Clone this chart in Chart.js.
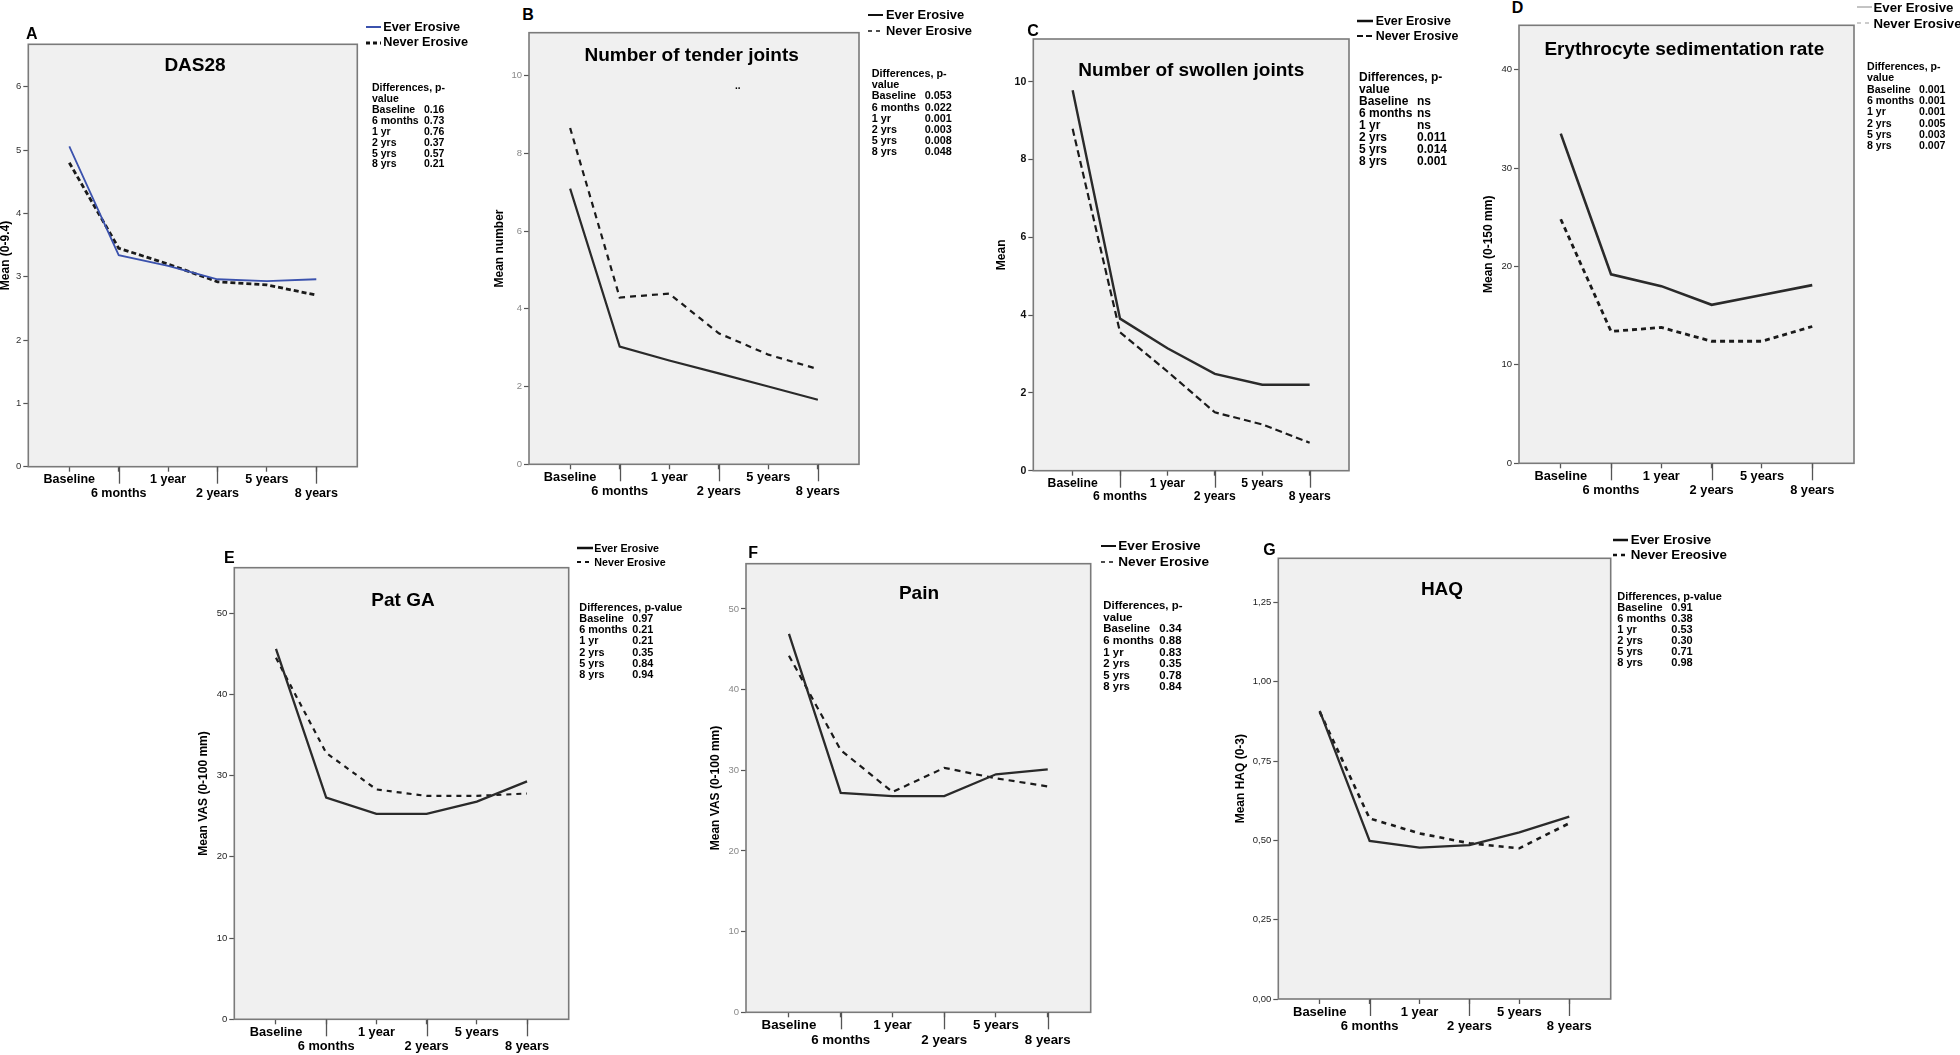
<!DOCTYPE html>
<html>
<head>
<meta charset="utf-8">
<script src="https://cdn.jsdelivr.net/npm/chart.js@4/dist/chart.umd.min.js"></script>
<style>
  body { margin: 0; width: 1960px; height: 1055px; overflow: hidden; background: #fff; position: relative;
         font-family: "Liberation Sans", Arial, sans-serif; }
  canvas { position: absolute; }
  .t { position: absolute; white-space: pre; color: #000; font-weight: bold; }
  svg { position: absolute; }
</style>
</head>
<body>
<script>
// time points and p-value row labels
const timepoints = ['Baseline', '6 months', '1 year', '2 years', '5 years', '8 years'];
const pvalueRows = ['Baseline', '6 months', '1 yr', '2 yrs', '5 yrs', '8 yrs'];

// A - DAS28
const das28Ever = [5.06, 3.34, 3.17, 2.96, 2.93, 2.96];
const das28Never = [4.80, 3.45, 3.20, 2.92, 2.87, 2.71];
const das28P = ['0.16', '0.73', '0.76', '0.37', '0.57', '0.21'];
const das28Ticks = [0, 1, 2, 3, 4, 5, 6];

// B - tender joints
const tenderEver = [7.09, 3.03, 2.67, 2.34, 2.00, 1.66];
const tenderNever = [8.65, 4.29, 4.39, 3.37, 2.82, 2.45];
const tenderP = ['0.053', '0.022', '0.001', '0.003', '0.008', '0.048'];
const jointTicks = [0, 2, 4, 6, 8, 10];

// C - swollen joints
const swollenEver = [9.78, 3.91, 3.15, 2.49, 2.21, 2.21];
const swollenNever = [8.79, 3.56, 2.55, 1.50, 1.19, 0.72];
const swollenP = ['ns', 'ns', 'ns', '0.011', '0.014', '0.001'];

// D - ESR
const esrEver = [33.5, 19.2, 18.0, 16.1, 17.1, 18.1];
const esrNever = [24.8, 13.4, 13.8, 12.4, 12.4, 13.9];
const esrP = ['0.001', '0.001', '0.001', '0.005', '0.003', '0.007'];
const esrTicks = [0, 10, 20, 30, 40];

// E - Pat GA
const patgaEver = [45.6, 27.3, 25.3, 25.3, 26.8, 29.3];
const patgaNever = [44.5, 32.8, 28.3, 27.5, 27.5, 27.8];
const patgaP = ['0.97', '0.21', '0.21', '0.35', '0.84', '0.94'];
const vasTicks = [0, 10, 20, 30, 40, 50];

// F - Pain
const painEver = [46.9, 27.2, 26.8, 26.8, 29.5, 30.1];
const painNever = [44.2, 32.5, 27.3, 30.3, 29.0, 28.0];
const painP = ['0.34', '0.88', '0.83', '0.35', '0.78', '0.84'];

// G - HAQ
const haqEver = [0.908, 0.498, 0.477, 0.485, 0.525, 0.575];
const haqNever = [0.905, 0.569, 0.522, 0.491, 0.475, 0.554];
const haqP = ['0.91', '0.38', '0.53', '0.30', '0.71', '0.98'];
const haqTicks = [0, 0.25, 0.5, 0.75, 1, 1.25];
const haqTickLabels = ['0,00', '0,25', '0,50', '0,75', '1,00', '1,25'];

const FONT = '"Liberation Sans", Arial, sans-serif';
const LEG = ['Ever Erosive', 'Never Erosive'];

// layout of each panel (plot box = [left, top, right, bottom])
const panels = [
  { letter: 'A', ever: das28Ever, never: das28Never, p: das28P, ticks: das28Ticks, yMax: 6.67,
    title: 'DAS28', yTitle: 'Mean (0-9.4)', legend: LEG,
    box: [28.3, 44.3, 357.3, 466.7], yTitleX: 5, tickColor: '#333', xFont: 12.5,
    letterPos: [26, 34.2], titlePos: [195, 64],
    leg: { x1: 366, x2: 381, tx: 383.3, y: [27.3, 42.7], fs: 12.7 },
    tab: { x: 372, y: 87.7, step: 10.86, fs: 10.5, off: 52, wrap: true },
    everColor: '#3b52ad', everWidth: 1.8, neverDash: [5, 3], neverWidth: 2.8,
    legEver: { c: '#3b52ad', w: 2 }, legNever: { c: '#111', w: 3, d: '4,3' } },
  { letter: 'B', ever: tenderEver, never: tenderNever, p: tenderP, ticks: jointTicks, yMax: 11.1,
    title: 'Number of tender joints', yTitle: 'Mean number', legend: LEG,
    box: [529, 32.7, 859, 464.3], yTitleX: 499, tickColor: '#888', xFont: 12.8,
    letterPos: [522.3, 15.3], titlePos: [691.7, 54.7],
    leg: { x1: 868.3, x2: 883.3, tx: 886, y: [15, 31], fs: 12.9 },
    tab: { x: 871.7, y: 73.3, step: 11.2, fs: 10.8, off: 53, wrap: true },
    everColor: '#2a2a2a', everWidth: 2.2, neverDash: [6, 5], neverWidth: 2.2,
    legEver: { c: '#111', w: 2 }, legNever: { c: '#111', w: 1.6, d: '4,4' } },
  { letter: 'C', ever: swollenEver, never: swollenNever, p: swollenP, ticks: jointTicks, yMax: 11.1,
    title: 'Number of swollen joints', yTitle: 'Mean', legend: LEG,
    box: [1033.3, 39, 1349, 470.7], yTitleX: 1001, tickColor: '#111', tickBold: true, xFont: 12.2,
    letterPos: [1027.3, 31.2], titlePos: [1191.3, 69.8],
    leg: { x1: 1356.7, x2: 1373.3, tx: 1375.7, y: [20.7, 35.7], fs: 12.4 },
    tab: { x: 1359, y: 77.3, step: 12, fs: 12, off: 58, wrap: true },
    everColor: '#2a2a2a', everWidth: 2.4, neverDash: [7, 4], neverWidth: 2.2,
    legEver: { c: '#111', w: 2.5 }, legNever: { c: '#111', w: 2, d: '6,3' } },
  { letter: 'D', ever: esrEver, never: esrNever, p: esrP, ticks: esrTicks, yMax: 44.5,
    title: 'Erythrocyte sedimentation rate', yTitle: 'Mean (0-150 mm)', legend: LEG,
    box: [1519, 25.3, 1854, 463.3], yTitleX: 1488.3, tickColor: '#222', xFont: 12.8,
    letterPos: [1511.7, 7.5], titlePos: [1684.3, 48.8],
    leg: { x1: 1856.7, x2: 1871.7, tx: 1873.5, y: [7.3, 23.3], fs: 13.2 },
    tab: { x: 1867, y: 66.3, step: 11.33, fs: 10.6, off: 52, wrap: true },
    everColor: '#2a2a2a', everWidth: 2.6, neverDash: [5, 4], neverWidth: 2.8,
    legEver: { c: '#888', w: 1 }, legNever: { c: '#999', w: 1, d: '4,4' } },
  { letter: 'E', ever: patgaEver, never: patgaNever, p: patgaP, ticks: vasTicks, yMax: 55.6,
    title: 'Pat GA', yTitle: 'Mean VAS (0-100 mm)', legend: LEG,
    box: [234.3, 567.7, 568.7, 1019.3], yTitleX: 203, tickColor: '#222', xFont: 12.8,
    letterPos: [224, 558], titlePos: [403, 599.3],
    leg: { x1: 576.7, x2: 592.7, tx: 594.3, y: [548.3, 562.3], fs: 10.7 },
    tab: { x: 579.3, y: 607.3, step: 11.2, fs: 10.85, off: 53, wrap: false },
    everColor: '#2a2a2a', everWidth: 2.3, neverDash: [5, 5], neverWidth: 2.2,
    legEver: { c: '#111', w: 2.5 }, legNever: { c: '#111', w: 2, d: '4,4' } },
  { letter: 'F', ever: painEver, never: painNever, p: painP, ticks: vasTicks, yMax: 55.6,
    title: 'Pain', yTitle: 'Mean VAS (0-100 mm)', legend: LEG,
    box: [746, 563.7, 1090.7, 1012.3], yTitleX: 715, tickColor: '#888', xFont: 13.3,
    letterPos: [748.3, 553.3], titlePos: [919, 592.5],
    leg: { x1: 1100.7, x2: 1116, tx: 1118.3, y: [545.7, 561.7], fs: 13.6 },
    tab: { x: 1103.3, y: 606, step: 11.57, fs: 11.4, off: 56, wrap: true },
    everColor: '#2a2a2a', everWidth: 2.3, neverDash: [6, 5], neverWidth: 2.2,
    legEver: { c: '#111', w: 2 }, legNever: { c: '#111', w: 1.6, d: '4,4' } },
  { letter: 'G', ever: haqEver, never: haqNever, p: haqP, ticks: haqTicks, tickLabels: haqTickLabels, yMax: 1.389,
    title: 'HAQ', yTitle: 'Mean HAQ (0-3)', legend: ['Ever Erosive', 'Never Ereosive'],
    box: [1278.3, 558.3, 1610.7, 999], yTitleX: 1240, tickColor: '#222', xFont: 13,
    letterPos: [1263.3, 550], titlePos: [1442, 588.3],
    leg: { x1: 1613.3, x2: 1628.3, tx: 1630.7, y: [540, 555], fs: 13.3 },
    tab: { x: 1617.3, y: 596, step: 11, fs: 11, off: 54, wrap: false },
    everColor: '#2a2a2a', everWidth: 2.3, neverDash: [5, 5], neverWidth: 2.6,
    legEver: { c: '#111', w: 2.5 }, legNever: { c: '#111', w: 2.5, d: '4,4' } }
];

function addText(str, x, y, size, opts = {}) {
  const d = document.createElement('div');
  d.className = 't';
  d.textContent = str;
  d.style.fontSize = size + 'px';
  d.style.lineHeight = size + 'px';
  d.style.top = (y - size / 2) + 'px';
  d.style.left = x + 'px';
  if (opts.center) d.style.transform = 'translateX(-50%)';
  if (opts.weight) d.style.fontWeight = opts.weight;
  document.body.appendChild(d);
}

function addSample(x1, x2, y, s) {
  const w = x2 - x1;
  const svg = document.createElementNS('http://www.w3.org/2000/svg', 'svg');
  svg.setAttribute('width', w);
  svg.setAttribute('height', 8);
  svg.style.left = x1 + 'px';
  svg.style.top = (y - 4) + 'px';
  const ln = document.createElementNS('http://www.w3.org/2000/svg', 'line');
  ln.setAttribute('x1', 0); ln.setAttribute('x2', w);
  ln.setAttribute('y1', 4); ln.setAttribute('y2', 4);
  ln.setAttribute('stroke', s.c);
  ln.setAttribute('stroke-width', s.w);
  if (s.d) ln.setAttribute('stroke-dasharray', s.d);
  svg.appendChild(ln);
  document.body.appendChild(svg);
}

// grey plot background, frame and the long ticks under the lower label row
const frame = {
  id: 'frame',
  beforeDraw(chart) {
    const a = chart.chartArea, c = chart.ctx;
    c.save();
    c.fillStyle = '#f0f0f0';
    c.fillRect(a.left, a.top, a.right - a.left, a.bottom - a.top);
    c.restore();
  },
  afterDraw(chart) {
    const a = chart.chartArea, c = chart.ctx, xs = chart.scales.x;
    c.save();
    c.strokeStyle = '#7a7a7a';
    c.lineWidth = 1.6;
    c.strokeRect(a.left, a.top, a.right - a.left, a.bottom - a.top);
    c.strokeStyle = '#555';
    c.lineWidth = 1.3;
    timepoints.forEach((_, i) => {
      if (i % 2 === 1) {
        const px = Math.round(xs.getPixelForValue(i)) + 0.5;
        c.beginPath();
        c.moveTo(px, a.bottom);
        c.lineTo(px, a.bottom + 17);
        c.stroke();
      }
    });
    c.restore();
  }
};

panels.forEach(p => {
  const [L, T, R, B] = p.box;
  const cx = Math.round(p.yTitleX - 7.2);
  const cy = Math.round(T - 4);
  const cw = Math.round(R + 4 - cx);
  const ch = Math.round(B + 40 - cy);
  const canvas = document.createElement('canvas');
  canvas.width = cw;
  canvas.height = ch;
  canvas.style.left = cx + 'px';
  canvas.style.top = cy + 'px';
  document.body.appendChild(canvas);

  const tickLabels = p.tickLabels || p.ticks.map(String);

  new Chart(canvas.getContext('2d'), {
    type: 'line',
    data: {
      datasets: [
        { label: p.legend[0], data: p.ever.map((v, i) => ({ x: i, y: v })),
          borderColor: p.everColor, borderWidth: p.everWidth, pointRadius: 0, tension: 0, fill: false },
        { label: p.legend[1], data: p.never.map((v, i) => ({ x: i, y: v })),
          borderColor: '#1a1a1a', borderWidth: p.neverWidth, borderDash: p.neverDash, pointRadius: 0, tension: 0, fill: false }
      ]
    },
    options: {
      responsive: false,
      animation: false,
      devicePixelRatio: 1,
      layout: { padding: { top: T - cy, right: cx + cw - R, left: 0, bottom: 0 } },
      plugins: { legend: { display: false }, tooltip: { enabled: false } },
      scales: {
        x: {
          type: 'linear', min: -0.83, max: 5.83,
          afterBuildTicks: s => { s.ticks = timepoints.map((_, i) => ({ value: i })); },
          afterFit: s => { s.height = ch - (B - cy); s.paddingLeft = 0; s.paddingRight = 0; },
          ticks: {
            autoSkip: false, maxRotation: 0, minRotation: 0, padding: 1, color: '#000',
            font: { family: FONT, size: p.xFont, weight: 'bold', lineHeight: 1.1 },
            callback: (v, i) => (i % 2 ? ['', timepoints[i]] : timepoints[i])
          },
          grid: { drawOnChartArea: false, drawTicks: true, tickLength: 5, tickColor: '#555', tickWidth: 1.3 },
          border: { display: false }
        },
        y: {
          type: 'linear', min: 0, max: p.yMax,
          afterBuildTicks: s => { s.ticks = p.ticks.map(v => ({ value: v })); },
          afterFit: s => { s.width = L - cx; s.paddingTop = 0; s.paddingBottom = 0; },
          ticks: {
            padding: 2, color: p.tickColor,
            font: { family: FONT, size: p.tickBold ? 10.5 : 9.5, weight: p.tickBold ? 'bold' : 'normal' },
            callback: (v, i) => tickLabels[i]
          },
          grid: { drawOnChartArea: false, drawTicks: true, tickLength: 5, tickColor: '#555', tickWidth: 1.2 },
          border: { display: false },
          title: { display: true, text: p.yTitle, color: '#000', padding: 0,
                   font: { family: FONT, size: 12, weight: 'bold', lineHeight: 1.2 } }
        }
      }
    },
    plugins: [frame]
  });

  // panel letter, title, legend and p-value table
  addText(p.letter, p.letterPos[0], p.letterPos[1], 16);
  addText(p.title, p.titlePos[0], p.titlePos[1], 19, { center: true });
  addSample(p.leg.x1, p.leg.x2, p.leg.y[0], p.legEver);
  addSample(p.leg.x1, p.leg.x2, p.leg.y[1], p.legNever);
  addText(p.legend[0], p.leg.tx, p.leg.y[0], p.leg.fs);
  addText(p.legend[1], p.leg.tx, p.leg.y[1], p.leg.fs);

  const tb = p.tab;
  let row = 0;
  if (tb.wrap) {
    addText('Differences, p-', tb.x, tb.y, tb.fs);
    addText('value', tb.x, tb.y + tb.step, tb.fs);
    row = 2;
  } else {
    addText('Differences, p-value', tb.x, tb.y, tb.fs);
    row = 1;
  }
  pvalueRows.forEach((lab, i) => {
    const y = tb.y + (row + i) * tb.step;
    addText(lab, tb.x, y, tb.fs);
    addText(p.p[i], tb.x + tb.off, y, tb.fs);
  });
});

// stray marks in panel B
addText('..', 735, 86, 10);
</script>
</body>
</html>
